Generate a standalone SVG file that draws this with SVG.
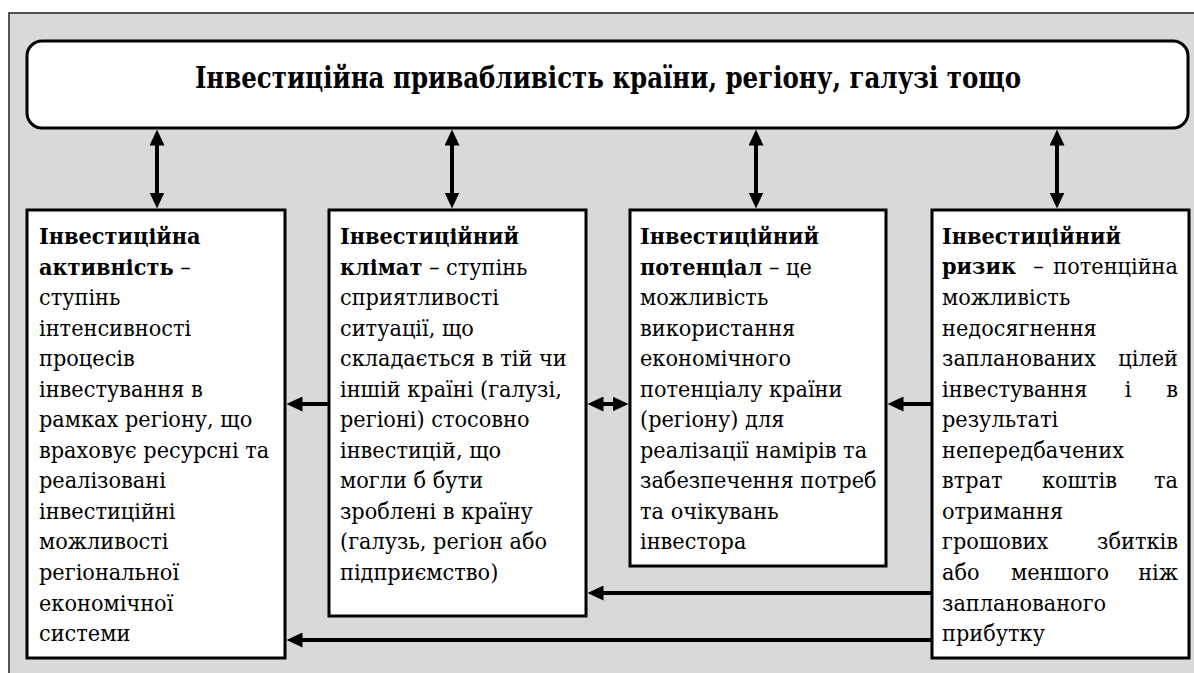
<svg xmlns="http://www.w3.org/2000/svg" width="1194" height="673" viewBox="0 0 1194 673">
<style>
.box{fill:#fff;stroke:#000;stroke-width:3}
text{font-family:'DejaVu Serif','Liberation Serif',serif;fill:#000}
.t{font-size:22px}
.b{font-weight:bold}
.title{font-size:29px;font-weight:bold}
.c{stroke:#000;stroke-width:4;fill:none}
</style>
<defs>
<marker id="ah" markerUnits="userSpaceOnUse" markerWidth="16" markerHeight="15" refX="8" refY="7.5" orient="auto-start-reverse">
<path d="M0,0 L16,7.5 L0,15 z" fill="#000"/>
</marker>
</defs>
<rect x="0" y="0" width="1194" height="673" fill="#fff"/>
<rect x="9" y="13" width="1200" height="680" fill="#d9d9d9" stroke="#222" stroke-width="1.5"/>

<g id="top">
<rect class="box" x="27" y="41" width="1161" height="87" rx="15"/>
<g transform="matrix(0.845,0,0,1,94.24,0)">
<text class="title" x="608" y="88" text-anchor="middle">Інвестиційна привабливість країни, регіону, галузі тощо</text>
</g>
</g>

<g id="activity">
<rect class="box" x="27" y="210" width="258" height="448"/>
<g transform="matrix(0.95,0,0,1,1.95,0)">
<text class="t" x="39" y="244"><tspan class="b">Інвестиційна</tspan><tspan x="39" dy="30.55" class="b">активність</tspan> –<tspan x="39" dy="30.55">ступінь</tspan><tspan x="39" dy="30.55">інтенсивності</tspan><tspan x="39" dy="30.55">процесів</tspan><tspan x="39" dy="30.55">інвестування в</tspan><tspan x="39" dy="30.55">рамках регіону, що</tspan><tspan x="39" dy="30.55">враховує ресурсні та</tspan><tspan x="39" dy="30.55">реалізовані</tspan><tspan x="39" dy="30.55">інвестиційні</tspan><tspan x="39" dy="30.55">можливості</tspan><tspan x="39" dy="30.55">регіональної</tspan><tspan x="39" dy="30.55">економічної</tspan><tspan x="39" dy="30.55">системи</tspan></text>
</g>
</g>

<g id="climate">
<rect class="box" x="329" y="210" width="257" height="406"/>
<g transform="matrix(0.95,0,0,1,17,0)">
<text class="t" x="340" y="244"><tspan class="b">Інвестиційний</tspan><tspan x="340" dy="30.55" class="b">клімат</tspan> – ступінь<tspan x="340" dy="30.55">сприятливості</tspan><tspan x="340" dy="30.55">ситуації, що</tspan><tspan x="340" dy="30.55">складається в тій чи</tspan><tspan x="340" dy="30.55">іншій країні (галузі,</tspan><tspan x="340" dy="30.55">регіоні) стосовно</tspan><tspan x="340" dy="30.55">інвестицій, що</tspan><tspan x="340" dy="30.55">могли б бути</tspan><tspan x="340" dy="30.55">зроблені в країну</tspan><tspan x="340" dy="30.55">(галузь, регіон або</tspan><tspan x="340" dy="30.55">підприємство)</tspan></text>
</g>
</g>

<g id="potential">
<rect class="box" x="630" y="210" width="256" height="356"/>
<g transform="matrix(0.95,0,0,1,32,0)">
<text class="t" x="640" y="244"><tspan class="b">Інвестиційний</tspan><tspan x="640" dy="30.55" class="b">потенціал</tspan> – це<tspan x="640" dy="30.55">можливість</tspan><tspan x="640" dy="30.55">використання</tspan><tspan x="640" dy="30.55">економічного</tspan><tspan x="640" dy="30.55">потенціалу країни</tspan><tspan x="640" dy="30.55">(регіону) для</tspan><tspan x="640" dy="30.55">реалізації намірів та</tspan><tspan x="640" dy="30.55">забезпечення потреб</tspan><tspan x="640" dy="30.55">та очікувань</tspan><tspan x="640" dy="30.55">інвестора</tspan></text>
</g>
</g>

<g id="risk">
<rect class="box" x="932" y="210" width="257" height="448"/>
<g transform="matrix(0.95,0,0,1,47.1,0)">
<text class="t b" x="942" y="244">Інвестиційний</text>
<text class="t b" x="942" y="274.5">ризик</text>
<text class="t" x="1043.6" y="274.5" text-anchor="middle">–</text>
<text class="t" x="1190.4" y="274.5" text-anchor="end">потенційна</text>
<text class="t" x="942" y="305.1">можливість</text>
<text class="t" x="942" y="335.6">недосягнення</text>
<text class="t" x="942" y="366.2">запланованих</text>
<text class="t" x="1190.4" y="366.2" text-anchor="end">цілей</text>
<text class="t" x="942" y="396.7">інвестування</text>
<text class="t" x="1137.8" y="396.7" text-anchor="middle">і</text>
<text class="t" x="1190.4" y="396.7" text-anchor="end">в</text>
<text class="t" x="942" y="427.3">результаті</text>
<text class="t" x="942" y="457.8">непередбачених</text>
<text class="t" x="942" y="488.4">втрат</text>
<text class="t" x="1086.7" y="488.4" text-anchor="middle">коштів</text>
<text class="t" x="1190.4" y="488.4" text-anchor="end">та</text>
<text class="t" x="942" y="519">отримання</text>
<text class="t" x="942" y="549.5">грошових</text>
<text class="t" x="1190.4" y="549.5" text-anchor="end">збитків</text>
<text class="t" x="942" y="580.1">або</text>
<text class="t" x="1066.2" y="580.1" text-anchor="middle">меншого</text>
<text class="t" x="1190.4" y="580.1" text-anchor="end">ніж</text>
<text class="t" x="942" y="610.6">запланованого</text>
<text class="t" x="942" y="641.2">прибутку</text>
</g>
</g>

<g id="connectors">
<line class="c" x1="157" y1="137.5" x2="157" y2="200.5" marker-start="url(#ah)" marker-end="url(#ah)"/>
<line class="c" x1="452" y1="137.5" x2="452" y2="200.5" marker-start="url(#ah)" marker-end="url(#ah)"/>
<line class="c" x1="756" y1="137.5" x2="756" y2="200.5" marker-start="url(#ah)" marker-end="url(#ah)"/>
<line class="c" x1="1057" y1="137.5" x2="1057" y2="200.5" marker-start="url(#ah)" marker-end="url(#ah)"/>
<line class="c" x1="328" y1="404" x2="294.5" y2="404" marker-end="url(#ah)"/>
<line class="c" x1="595.5" y1="404" x2="620.5" y2="404" marker-start="url(#ah)" marker-end="url(#ah)"/>
<line class="c" x1="931" y1="404" x2="895.5" y2="404" marker-end="url(#ah)"/>
<line class="c" x1="931" y1="593" x2="595.5" y2="593" marker-end="url(#ah)"/>
<line class="c" x1="931" y1="640" x2="294.5" y2="640" marker-end="url(#ah)"/>
</g>
</svg>
